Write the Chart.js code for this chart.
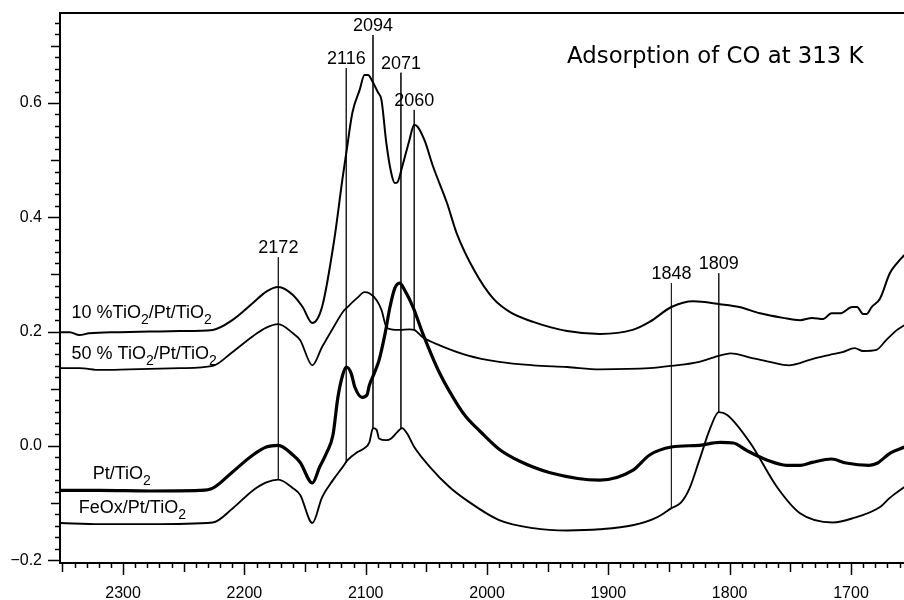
<!DOCTYPE html>
<html>
<head>
<meta charset="utf-8">
<script src="https://cdn.jsdelivr.net/npm/chart.js@4.4.1/dist/chart.umd.min.js"></script>
<style>
  html, body { margin: 0; padding: 0; background: #fff; }
  #wrap { width: 904px; height: 600px; }
</style>
</head>
<body>
<div id="wrap"><canvas id="myChart" width="904" height="600"></canvas></div>
<script>
// wavenumber (cm-1) / absorbance pairs
const s10Wn = [2352, 2344, 2336, 2328, 2303, 2278, 2253, 2226, 2210, 2193, 2182, 2172, 2160, 2152, 2144,
  2136, 2126, 2119, 2116, 2111, 2105, 2101, 2098, 2095, 2090, 2087, 2083, 2079, 2076, 2074, 2070, 2064,
  2060, 2057, 2051, 2045, 2033, 2025, 2010, 1995, 1981, 1962, 1934, 1907, 1880, 1866, 1848, 1830, 1808,
  1792, 1775, 1756, 1742, 1732, 1723, 1716, 1709, 1699, 1695, 1690, 1687, 1683, 1676, 1668, 1662, 1656];
const s10Abs = [0.199, 0.199, 0.194, 0.197, 0.199, 0.200, 0.201, 0.203, 0.220, 0.250, 0.270, 0.278, 0.264, 0.243, 0.215,
  0.243, 0.360, 0.470, 0.513, 0.583, 0.623, 0.649, 0.649, 0.640, 0.619, 0.605, 0.530, 0.478, 0.460, 0.461, 0.488, 0.535,
  0.562, 0.558, 0.532, 0.492, 0.425, 0.372, 0.305, 0.258, 0.234, 0.217, 0.201, 0.196, 0.203, 0.217, 0.243, 0.253, 0.248,
  0.243, 0.232, 0.224, 0.220, 0.224, 0.222, 0.232, 0.232, 0.243, 0.243, 0.231, 0.231, 0.243, 0.258, 0.302, 0.320, 0.334];

const s50Wn = [2352, 2336, 2319, 2295, 2253, 2226, 2210, 2193, 2182, 2172, 2160, 2154, 2144, 2136, 2127,
  2119, 2115, 2107, 2101, 2097, 2091, 2087, 2083, 2079, 2072, 2064, 2060, 2053, 2039, 2017, 1990, 1962,
  1934, 1907, 1866, 1848, 1825, 1813, 1799, 1784, 1767, 1751, 1742, 1732, 1718, 1707, 1697, 1690, 1679,
  1671, 1662, 1656];
const s50Abs = [0.136, 0.136, 0.133, 0.134, 0.136, 0.140, 0.164, 0.192, 0.207, 0.213, 0.197, 0.185, 0.141, 0.173, 0.206,
  0.234, 0.243, 0.259, 0.269, 0.267, 0.255, 0.238, 0.208, 0.204, 0.203, 0.204, 0.203, 0.190, 0.176, 0.159, 0.147, 0.141,
  0.138, 0.134, 0.136, 0.140, 0.147, 0.155, 0.162, 0.155, 0.147, 0.141, 0.145, 0.152, 0.159, 0.164, 0.171, 0.166, 0.168,
  0.185, 0.203, 0.211];

const sPtWn = [2352, 2319, 2278, 2237, 2226, 2210, 2193, 2182, 2172, 2160, 2154, 2144, 2138, 2132, 2127,
  2123, 2119, 2116, 2112, 2109, 2103, 2099, 2097, 2093, 2089, 2084, 2080, 2076, 2072, 2068, 2061, 2053,
  2039, 2024, 2017, 2006, 1990, 1973, 1948, 1907, 1880, 1866, 1848, 1825, 1808, 1797, 1786, 1769, 1753, 1742,
  1732, 1716, 1704, 1685, 1678, 1668, 1656];
const sPtAbs = [-0.078, -0.078, -0.079, -0.078, -0.074, -0.046, -0.016, -0.002, 0.001, -0.016, -0.029, -0.065, -0.037, -0.011, 0.019,
  0.084, 0.124, 0.138, 0.127, 0.103, 0.085, 0.089, 0.106, 0.127, 0.150, 0.197, 0.243, 0.276, 0.285, 0.273, 0.243, 0.197,
  0.127, 0.071, 0.050, 0.026, -0.006, -0.027, -0.047, -0.060, -0.043, -0.016, -0.002, 0.001, 0.006, 0.005, -0.008, -0.025, -0.034, -0.034,
  -0.029, -0.023, -0.030, -0.034, -0.030, -0.013, -0.002];

const sFeWn = [2352, 2319, 2278, 2226, 2210, 2193, 2182, 2172, 2160, 2154, 2144, 2136, 2127, 2119, 2115,
  2107, 2101, 2097, 2094, 2091, 2089, 2083, 2079, 2074, 2070, 2066, 2060, 2047, 2031, 2017, 1990, 1962,
  1934, 1907, 1880, 1860, 1848, 1840, 1833, 1825, 1816, 1809, 1802, 1783, 1761, 1742, 1715, 1699, 1676,
  1668, 1656];
const sFeAbs = [-0.135, -0.137, -0.137, -0.134, -0.110, -0.078, -0.064, -0.059, -0.074, -0.086, -0.135, -0.090, -0.060, -0.037, -0.025,
  -0.011, -0.004, 0.006, 0.031, 0.028, 0.013, 0.010, 0.013, 0.024, 0.031, 0.022, -0.002, -0.037, -0.072, -0.095, -0.130, -0.144,
  -0.148, -0.146, -0.139, -0.125, -0.109, -0.099, -0.074, -0.025, 0.031, 0.059, 0.054, 0.005, -0.072, -0.118, -0.134, -0.127, -0.107,
  -0.091, -0.072];

// marked band positions and the span of each marker line
const peakWn = [2172, 2116, 2094, 2071, 2060, 1848, 1809];
const peakTop = [0.330, 0.661, 0.719, 0.653, 0.588, 0.285, 0.302];
const peakBottom = [-0.059, -0.030, 0.031, 0.031, 0.203, -0.109, 0.059];

const xTickLabels = [2300, 2200, 2100, 2000, 1900, 1800, 1700];
const yTickLabels = [-0.2, 0.0, 0.2, 0.4, 0.6];

const FONT = "'Liberation Sans', Arial, sans-serif";

function pairs(wn, abs) {
  return wn.map((w, i) => ({ x: w, y: abs[i] }));
}

// series name labels: [wavenumber, absorbance, parts]
const seriesLabels = [
  [2342.5, 0.224, [["10 %TiO", 0], ["2", 1], ["/Pt/TiO", 0], ["2", 1]]],
  [2342.5, 0.152, [["50 % TiO", 0], ["2", 1], ["/Pt/TiO", 0], ["2", 1]]],
  [2325, -0.058, [["Pt/TiO", 0], ["2", 1]]],
  [2336.5, -0.118, [["FeOx/Pt/TiO", 0], ["2", 1]]],
];

const spectrumStyle = (w) => ({
  borderColor: "#000",
  borderWidth: w,
  pointRadius: 0,
  cubicInterpolationMode: "monotone",
  fill: false,
});

const datasets = [
  { label: "10 %TiO2/Pt/TiO2", data: pairs(s10Wn, s10Abs), ...spectrumStyle(2) },
  { label: "50 % TiO2/Pt/TiO2", data: pairs(s50Wn, s50Abs), ...spectrumStyle(1.8) },
  { label: "Pt/TiO2", data: pairs(sPtWn, sPtAbs), ...spectrumStyle(3.2) },
  { label: "FeOx/Pt/TiO2", data: pairs(sFeWn, sFeAbs), ...spectrumStyle(1.9) },
];
peakWn.forEach((w, i) => {
  datasets.push({
    label: "peak " + w,
    data: [{ x: w, y: peakTop[i] }, { x: w, y: peakBottom[i] }],
    borderColor: "#222",
    borderWidth: 1,
    pointRadius: 0,
    tension: 0,
  });
});

// axis tick marks (outward) plus frame top line and text annotations
const decorations = {
  id: "decorations",
  afterDraw(chart) {
    const c = chart.ctx;
    const xs = chart.scales.x;
    const ys = chart.scales.y;
    const area = chart.chartArea;
    c.save();
    c.strokeStyle = "#000";
    c.lineWidth = 2;
    c.beginPath();
    c.moveTo(area.left, area.top);
    c.lineTo(area.right, area.top);
    c.stroke();

    c.lineWidth = 1.5;
    c.beginPath();
    for (let w = 1660; w <= 2350; w += 10) {
      const len = w % 100 === 0 ? 12 : w % 50 === 0 ? 9 : 5;
      const px = Math.round(xs.getPixelForValue(w)) + 0.5;
      c.moveTo(px, area.bottom);
      c.lineTo(px, area.bottom + len);
    }
    for (let k = -10; k <= 37; k++) {
      const v = k * 0.02;
      const len = k % 10 === 0 ? 12 : k % 5 === 0 ? 9 : 5;
      const py = Math.round(ys.getPixelForValue(v)) + 0.5;
      c.moveTo(area.left - len, py);
      c.lineTo(area.left, py);
    }
    c.stroke();

    c.fillStyle = "#000";
    // peak labels
    c.font = "18px " + FONT;
    c.textAlign = "center";
    c.textBaseline = "alphabetic";
    peakWn.forEach((w, i) => {
      c.fillText(String(w), xs.getPixelForValue(w), ys.getPixelForValue(peakTop[i]) - 4);
    });

    // series labels with subscripts
    c.textAlign = "left";
    seriesLabels.forEach(([w, a, parts]) => {
      let px = xs.getPixelForValue(w);
      const py = ys.getPixelForValue(a);
      parts.forEach(([t, sub]) => {
        c.font = (sub ? "14px " : "18px ") + FONT;
        c.fillText(t, px, py + (sub ? 6 : 0));
        px += c.measureText(t).width;
      });
    });

    // title
    c.font = "22.8px 'DejaVu Sans', sans-serif";
    c.fillText("Adsorption of CO at 313 K", xs.getPixelForValue(1934), ys.getPixelForValue(0.670));
    c.restore();
  },
};

new Chart(document.getElementById("myChart"), {
  type: "line",
  data: { datasets },
  options: {
    responsive: false,
    animation: false,
    layout: { padding: { top: 13, right: 0, bottom: 0, left: 0 } },
    plugins: { legend: { display: false }, tooltip: { enabled: false } },
    scales: {
      x: {
        type: "linear",
        reverse: true,
        min: 1656.3,
        max: 2352,
        afterBuildTicks: (s) => { s.ticks = xTickLabels.map((v) => ({ value: v })); },
        afterFit: (s) => {
          s.height = 37;
          s.paddingLeft = 0;
          s.paddingRight = 0;
        },
        grid: { display: false, drawTicks: false },
        border: { display: true, color: "#000", width: 2 },
        ticks: {
          color: "#000",
          font: { family: FONT, size: 16 },
          padding: 21,
          maxRotation: 0,
          autoSkip: false,
          callback: (v) => String(v),
        },
      },
      y: {
        type: "linear",
        min: -0.205,
        max: 0.7576,
        afterBuildTicks: (s) => { s.ticks = yTickLabels.map((v) => ({ value: v })); },
        afterFit: (s) => {
          s.width = 60;
          s.paddingTop = 0;
          s.paddingBottom = 0;
        },
        grid: { display: false, drawTicks: false },
        border: { display: true, color: "#000", width: 2 },
        ticks: {
          color: "#000",
          font: { family: FONT, size: 16 },
          padding: 18,
          callback: (v) => (v < 0 ? "\u2212" + Math.abs(v).toFixed(1) : v.toFixed(1)),
        },
      },
    },
  },
  plugins: [decorations],
});
</script>
</body>
</html>
